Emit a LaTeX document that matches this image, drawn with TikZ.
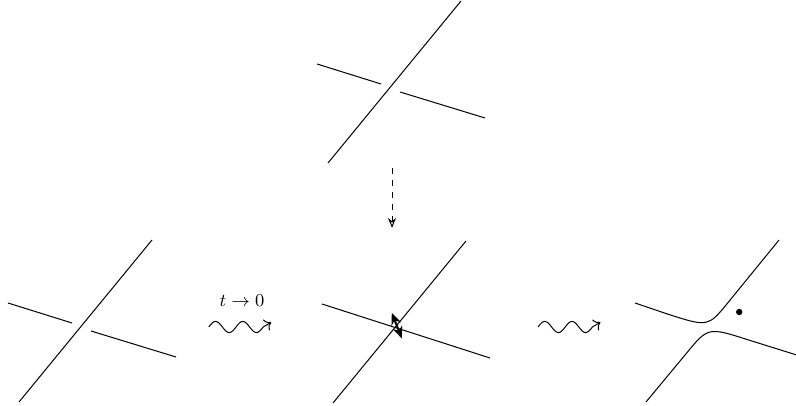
\documentclass[tikz,border=0pt]{standalone}
\usepackage{amsmath}
\usetikzlibrary{arrows.meta}

\tikzset{
  strand/.style={line width=0.5pt},
  wavy/.style={line width=0.5pt,-{To[length=3pt]}},
}
% one squiggle: two waves and a rising tail
\newcommand{\squiggle}{sin ++(0.17,0.14) cos ++(0.17,-0.14) sin ++(0.17,-0.14) cos ++(0.17,0.14)
  sin ++(0.17,0.14) cos ++(0.17,-0.14) sin ++(0.17,-0.14) cos ++(0.17,0.14) -- ++(0.2,0.12)}

\begin{document}
\begin{tikzpicture}[x=20pt,y=20pt]
\useasboundingbox (0,0) rectangle (19.9,10.15);

% centres of the four pictures
\coordinate (top) at (9.75,7.95);
\coordinate (left) at (2.025,1.975);
\coordinate (mid) at (9.875,1.95);
\coordinate (right) at (17.7,1.975);

% crossing, top
\begin{scope}[shift={(top)}]
\draw[strand] (-1.55,-1.875) -- (1.775,2.175);
\draw[strand] (-1.825,0.6) -- (-0.225,0.1);
\draw[strand] (0.25,-0.1) -- (2.375,-0.75);
\end{scope}

% crossing, left
\begin{scope}[shift={(left)}]
\draw[strand] (-1.55,-1.875) -- (1.775,2.175);
\draw[strand] (-1.825,0.6) -- (-0.225,0.1);
\draw[strand] (0.25,-0.1) -- (2.375,-0.75);
\end{scope}

% singular curve
\begin{scope}[shift={(mid)}]
\draw[strand] (-1.55,-1.875) -- (1.775,2.175);
\draw[strand] (-1.825,0.6) -- (2.375,-0.75);
\draw[line width=1pt,{Stealth[length=6pt,width=5pt]}-{Stealth[length=6pt,width=5pt]}]
  (-0.08,0.38) -- (0.17,-0.26);
\end{scope}

% smoothing
\begin{scope}[shift={(right)}]
\draw[strand] (-1.825,0.6) -- (-1.0,0.32) .. controls (0,0) .. (0.5,0.61) -- (1.775,2.175);
\draw[strand] (-1.55,-1.875) -- (-0.55,-0.67) .. controls (0,0) .. (1.0,-0.32) -- (2.375,-0.75);
\fill (0.78,0.375) circle (1.6pt);
\end{scope}

% arrows between the pictures
\coordinate (d1) at (9.8,5.95);
\coordinate (d2) at (9.8,4.45);
\draw[line width=0.5pt,dashed,-{Stealth[open,length=5pt,width=4pt]}] (d1) -- (d2);

\coordinate (w1) at (5.22,1.975);
\draw[wavy] (w1) \squiggle;
\node (lim) at (6.05,2.62) {\small $t\to 0$};

\coordinate (w2) at (13.45,1.975);
\draw[wavy] (w2) \squiggle;
\end{tikzpicture}
\end{document}
